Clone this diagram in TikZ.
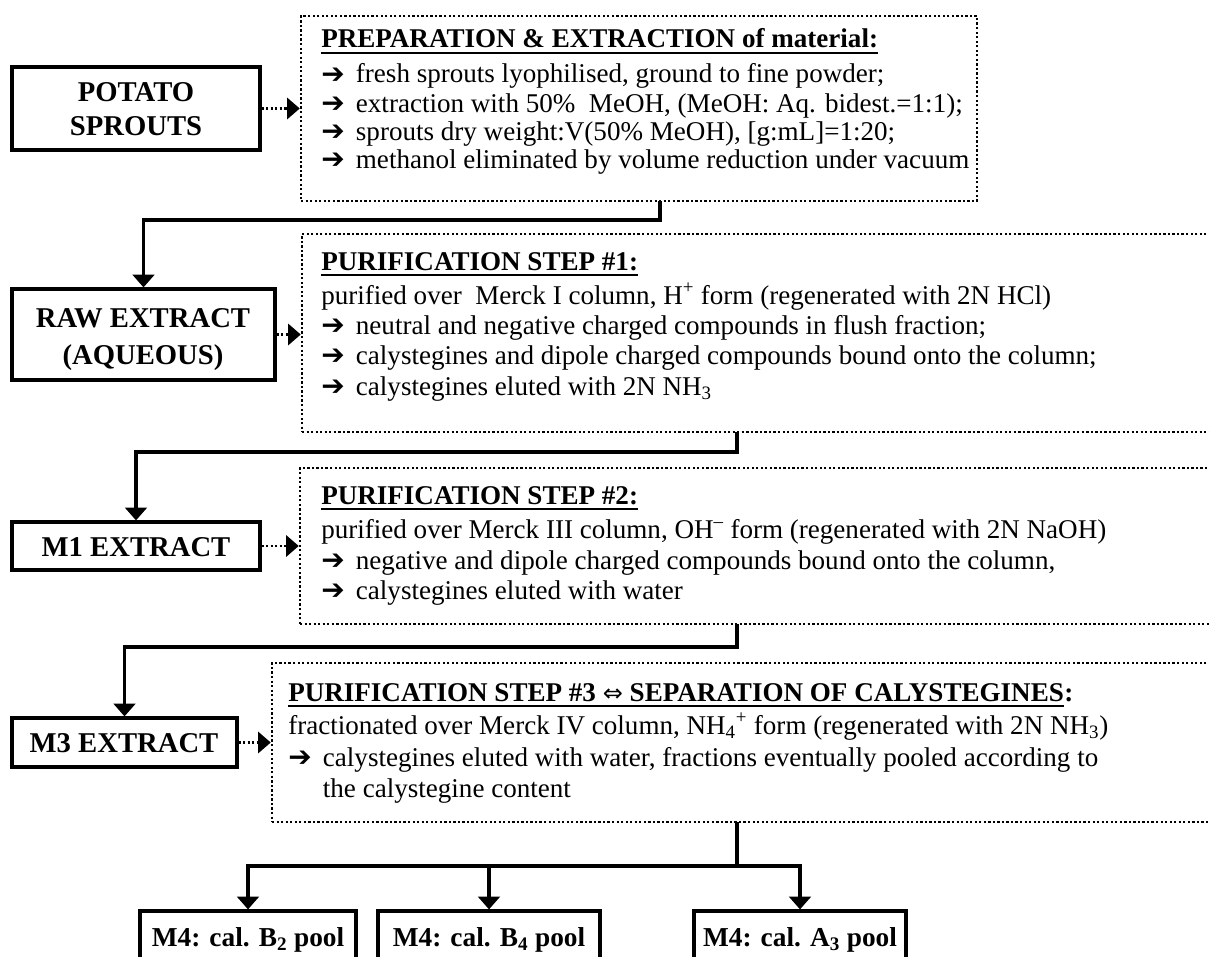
\documentclass[tikz,border=0pt]{standalone}
\usepackage{fontspec}
\setmainfont{Liberation Serif}
\newfontfamily\symfont{DejaVu Sans}
\usetikzlibrary{arrows.meta,fit}
\newcommand\barr{\makebox[26pt][l]{\raisebox{-0.5pt}{\symfont\fontsize{21pt}{21pt}\selectfont ➔}}}
\newcommand\bsp{\hspace*{26pt}}
\begin{document}
\begin{tikzpicture}[x=0.75pt,y=-0.75pt,
  solidbox/.style={draw, line width=2.4pt, inner sep=0pt},
  dotbox/.style={draw, line width=1.9pt, dash pattern=on 1.7pt off 1.7pt, inner sep=0pt},
  txt/.style={inner sep=0pt, anchor=base west, font=\fontsize{20.3pt}{24pt}\selectfont},
  hd/.style={inner sep=0pt, anchor=base west, font=\bfseries\fontsize{20.3pt}{24pt}\selectfont},
  lbl/.style={inner sep=0pt, anchor=base, font=\bfseries\fontsize{21.5pt}{24pt}\selectfont},
  plbl/.style={inner sep=0pt, anchor=base, font=\bfseries\fontsize{20.5pt}{24pt}\selectfont},
  ulin/.style={line width=1.9pt},
  conn/.style={line width=2.4pt, -{Triangle[width=16pt,length=9.5pt]}},
  trunk/.style={line width=2.4pt},
  dotarrow/.style={line width=1.9pt, dash pattern=on 1.7pt off 1.7pt, -{Triangle[width=16pt,length=9.5pt]}},
]
\useasboundingbox (0,0) rectangle (1209,956);
\clip (0,0) rectangle (1209,956);

% ---- solid boxes
\node[solidbox, fit={(12,67) (260,150)}] (potato) {};
\node[lbl] (potatoA) at (136,101) {POTATO};
\node[lbl] (potatoB) at (136,135) {SPROUTS};
\node[solidbox, fit={(12,289) (275,380)}] (raw) {};
\node[lbl] (rawA) at (143,327) {RAW EXTRACT};
\node[lbl] (rawB) at (143,364) {(AQUEOUS)};
\node[solidbox, fit={(12,522) (260,570)}] (m1) {};
\node[lbl] (m1t) at (136,556) {M1 EXTRACT};
\node[solidbox, fit={(12,718) (237,767)}] (m3) {};
\node[lbl] (m3t) at (124,752) {M3 EXTRACT};
\node[solidbox, fit={(140,911) (356,980)}] (p1) {};
\node[solidbox, fit={(378,911) (600,980)}] (p2) {};
\node[solidbox, fit={(694,911) (906,980)}] (p3) {};
\node[plbl] (p1t) at (248,946) {M4: cal. B\textsubscript{2} pool};
\node[plbl] (p2t) at (489,946) {M4: cal. B\textsubscript{4} pool};
\node[plbl] (p3t) at (800,946) {M4: cal. A\textsubscript{3} pool};

% ---- dotted boxes
\node[dotbox, fit={(301,16) (977,201)}] (b1) {};
\node[dotbox, fit={(302,234) (1240,432)}] (b2) {};
\node[dotbox, fit={(300,468) (1240,624)}] (b3) {};
\node[dotbox, fit={(272,663) (1240,822)}] (b4) {};

% ---- box 1 text
\node[hd] (b1h) at (321,48) {PREPARATION \& EXTRACTION of material:};
\draw[ulin] ([yshift=-3.6pt]b1h.base west) -- ([yshift=-3.6pt]b1h.base east);
\node[txt] (b1a) at (321,83) {\barr fresh sprouts lyophilised, ground to fine powder;};
\node[txt] (b1b) at (321,112) {\barr extraction with 50\%\ \ MeOH, (MeOH: Aq. bidest.=1:1);};
\node[txt] (b1c) at (321,140) {\barr sprouts dry weight:V(50\% MeOH), [g:mL]=1:20;};
\node[txt] (b1d) at (321,168) {\barr methanol eliminated by volume reduction under vacuum};

% ---- box 2 text
\node[hd] (b2h) at (321,270) {PURIFICATION STEP \#1:};
\draw[ulin] ([yshift=-3.6pt]b2h.base west) -- ([yshift=-3.6pt]b2h.base east);
\node[txt] (b2a) at (321,304) {purified over\ \ Merck I column, H\textsuperscript{+} form (regenerated with 2N HCl)};
\node[txt] (b2b) at (321,334) {\barr neutral and negative charged compounds in flush fraction;};
\node[txt] (b2c) at (321,364) {\barr calystegines and dipole charged compounds bound onto the column;};
\node[txt] (b2d) at (321,395) {\barr calystegines eluted with 2N NH\textsubscript{3}};

% ---- box 3 text
\node[hd] (b3h) at (321,504) {PURIFICATION STEP \#2:};
\draw[ulin] ([yshift=-3.6pt]b3h.base west) -- ([yshift=-3.6pt]b3h.base east);
\node[txt] (b3a) at (321,538) {purified over Merck III column, OH\textsuperscript{–} form (regenerated with 2N NaOH)};
\node[txt] (b3b) at (321,569) {\barr negative and dipole charged compounds bound onto the column,};
\node[txt] (b3c) at (321,599) {\barr calystegines eluted with water};

% ---- box 4 text
\node[hd] (b4h) at (288,701) {PURIFICATION STEP \#3 {\symfont\mdseries\fontsize{18pt}{18pt}\selectfont ⇔} SEPARATION OF CALYSTEGINES};
\node[hd] (b4c) at (b4h.base east) {:};
\draw[ulin] ([yshift=-3.6pt]b4h.base west) -- ([yshift=-3.6pt]b4h.base east);
\node[txt] (b4a) at (288,734) {fractionated over Merck IV column, NH\textsubscript{4}\textsuperscript{+} form (regenerated with 2N NH\textsubscript{3})};
\node[txt] (b4b) at (288,766) {\barr calystegines eluted with water, fractions eventually pooled according to};
\node[txt] (b4d) at (288,797) {\bsp the calystegine content};

% ---- dotted arrows
\draw[dotarrow] (potato.east) -- (potato.east -| b1.west);
\draw[dotarrow] (raw.east) -- (raw.east -| b2.west);
\draw[dotarrow] (m1.east) -- (m1.east -| b3.west);
\draw[dotarrow] (m3.east) -- (m3.east -| b4.west);

% ---- solid connectors
\coordinate (j1) at (660,201);
\coordinate (j2) at (737,432);
\coordinate (j3) at (737,624);
\coordinate (j4) at (737,822);
\coordinate (hub) at (737,866);
\draw[conn] (j1) -- ++(0,19) -| (raw.north);
\draw[conn] (j2) -- ++(0,20) -| (m1.north);
\draw[conn] (j3) -- ++(0,23) -| (m3.north);
\draw[trunk] (j4) -- (hub);
\draw[conn] (hub) -| (p1.north);
\draw[conn] (hub) -| (p2.north);
\draw[conn] (hub) -| (p3.north);
\end{tikzpicture}
\end{document}
